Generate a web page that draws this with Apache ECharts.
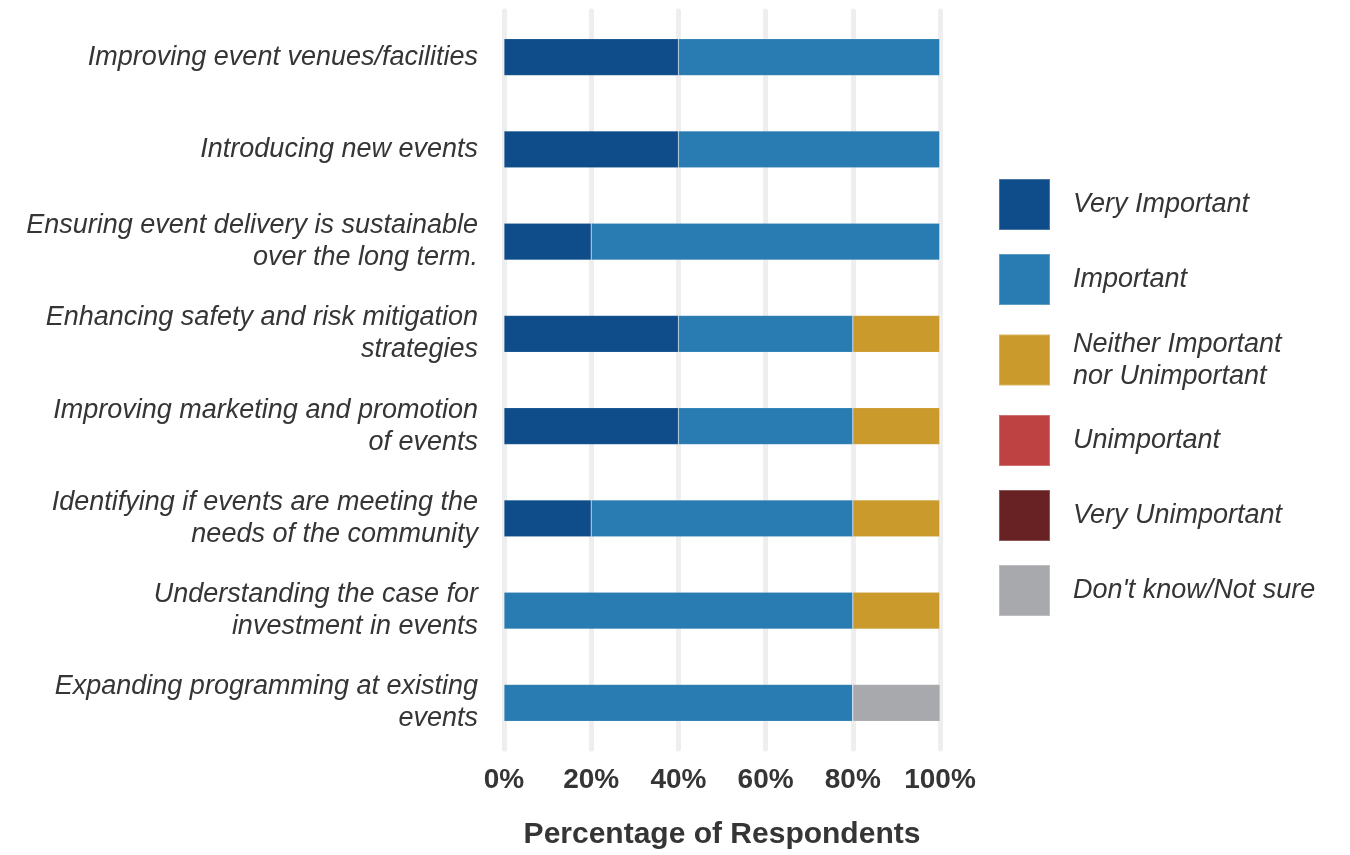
<!DOCTYPE html>
<html>
<head>
<meta charset="utf-8">
<script src="https://cdn.jsdelivr.net/npm/echarts@6/dist/echarts.min.js"></script>
<style>
  html, body { margin: 0; padding: 0; background: #ffffff; }
  #chart { width: 1350px; height: 855px; }
</style>
</head>
<body>
<div id="chart"></div>
<script>
// Survey priorities, listed top to bottom
const categories = [
  'Improving event venues/facilities',
  'Introducing new events',
  'Ensuring event delivery is sustainable\nover the long term.',
  'Enhancing safety and risk mitigation\nstrategies',
  'Improving marketing and promotion\nof events',
  'Identifying if events are meeting the\nneeds of the community',
  'Understanding the case for\ninvestment in events',
  'Expanding programming at existing\nevents'
];

// Share of respondents (%) per response level, same order as categories
const veryImportant   = [40, 40, 20, 40, 40, 20, 0, 0];
const important       = [60, 60, 80, 40, 40, 60, 80, 80];
const neither         = [0, 0, 0, 20, 20, 20, 20, 0];
const unimportant     = [0, 0, 0, 0, 0, 0, 0, 0];
const veryUnimportant = [0, 0, 0, 0, 0, 0, 0, 0];
const dontKnow        = [0, 0, 0, 0, 0, 0, 0, 20];

const xTicks = [0, 20, 40, 60, 80, 100];

const seriesDefs = [
  { name: 'Very Important', data: veryImportant, color: '#0E4D8A' },
  { name: 'Important', data: important, color: '#287CB1' },
  { name: 'Neither Important nor Unimportant', data: neither, color: '#CA9A2D' },
  { name: 'Unimportant', data: unimportant, color: '#BF4242' },
  { name: 'Very Unimportant', data: veryUnimportant, color: '#692224' },
  { name: "Don't know/Not sure", data: dontKnow, color: '#A8A9AC' }
];

const textColor = '#353535';
const sansFont = "'Liberation Sans', Arial, sans-serif";
const chart = echarts.init(document.getElementById('chart'), null, { renderer: 'canvas' });

chart.setOption({
  backgroundColor: '#ffffff',
  animation: false,
  grid: { left: 504, right: 410, top: 11, bottom: 104, containLabel: false },
  legend: {
    orient: 'vertical',
    left: 998,
    top: 178,
    padding: 0,
    itemWidth: 51,
    itemHeight: 51,
    itemGap: 22,
    icon: 'rect',
    selectedMode: false,
    formatter: function (name) {
      return name === 'Neither Important nor Unimportant'
        ? 'Neither Important\nnor Unimportant' : name;
    },
    textStyle: {
      color: textColor,
      fontFamily: sansFont,
      fontStyle: 'italic',
      fontSize: 27,
      lineHeight: 32,
      padding: [0, 0, 0, 18]
    },
    data: seriesDefs.map(s => s.name)
  },
  xAxis: {
    type: 'value',
    min: 0,
    max: 100,
    interval: 20,
    axisLine: { show: false },
    axisTick: { show: false },
    splitLine: {
      show: true,
      lineStyle: { color: '#eeeeee', width: 5, cap: 'round' }
    },
    axisLabel: {
      margin: 17,
      color: textColor,
      fontFamily: "'Liberation Sans Narrow', 'Arial Narrow', " + sansFont,
      fontWeight: 'bold',
      fontSize: 28,
      formatter: function (v) { return xTicks.indexOf(v) >= 0 ? v + '%' : ''; }
    },
    name: 'Percentage of Respondents',
    nameLocation: 'middle',
    nameGap: 71,
    nameTextStyle: {
      color: textColor,
      fontFamily: sansFont,
      fontWeight: 'bold',
      fontSize: 30
    }
  },
  yAxis: {
    type: 'category',
    inverse: true,
    data: categories,
    axisLine: { show: false },
    axisTick: { show: false },
    splitLine: { show: false },
    axisLabel: {
      margin: 26,
      color: textColor,
      fontFamily: sansFont,
      fontStyle: 'italic',
      fontSize: 27,
      lineHeight: 32,
      align: 'right'
    }
  },
  series: seriesDefs.map(s => ({
    name: s.name,
    type: 'bar',
    stack: 'total',
    barWidth: 37,
    data: s.data,
    itemStyle: { color: s.color, borderColor: 'rgba(255,255,255,0.25)', borderWidth: 0.6 },
    emphasis: { disabled: true }
  }))
});
</script>
</body>
</html>
